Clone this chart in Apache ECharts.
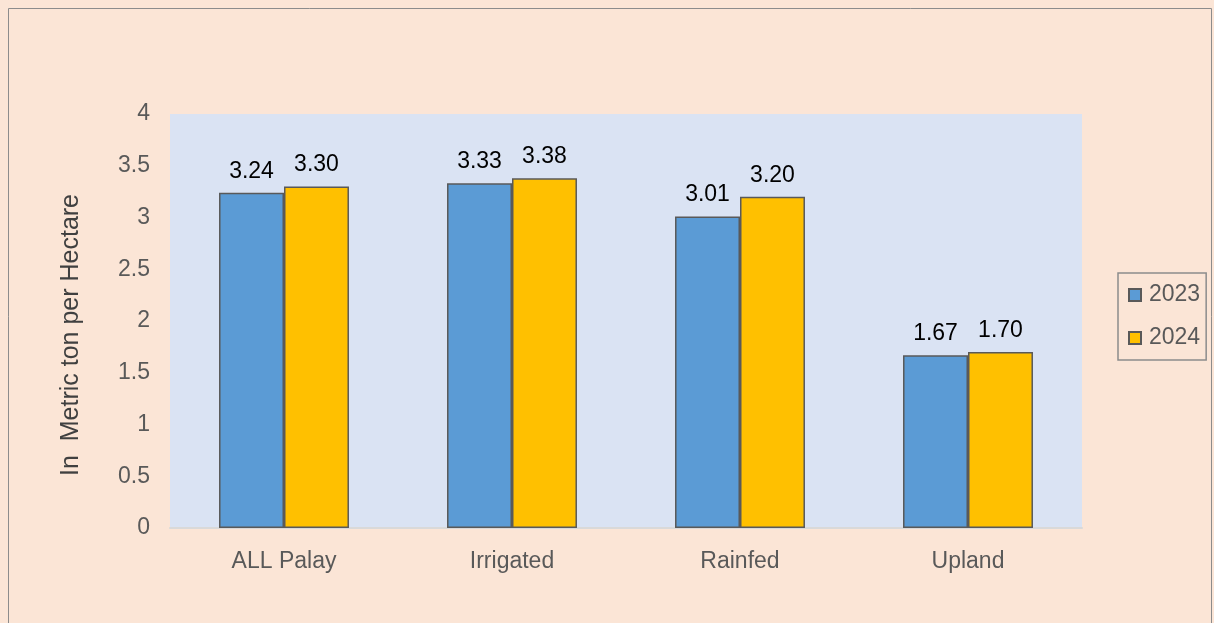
<!DOCTYPE html>
<html>
<head>
    <meta charset="utf-8">
    <title>Palay yield</title>
    <script src="https://cdn.jsdelivr.net/npm/echarts@6/dist/echarts.min.js"></script>
    <style>
        body, html {
            margin: 0;
            height: 100%;
            background: #fbe5d6;
        }

        #main {
            width: 1214px;
            height: 623px;
        }
    </style>
</head>
<body>
<div id="main"></div>
<script type="text/javascript">
    var categories = ['ALL Palay', 'Irrigated', 'Rainfed', 'Upland'];
    var years = ['2023', '2024'];
    var values2023 = [3.24, 3.33, 3.01, 1.67];
    var values2024 = [3.30, 3.38, 3.20, 1.70];
    var yTicks = [0, 0.5, 1, 1.5, 2, 2.5, 3, 3.5, 4];

    var myChart = echarts.init(document.getElementById('main'));

    var labelStyle = {
        show: true,
        position: 'top',
        distance: 10,
        color: '#000',
        fontSize: 23,
        fontFamily: 'Liberation Sans',
        formatter: function (p) {
            return p.value.toFixed(2);
        }
    };

    var option = {
        backgroundColor: '#fbe5d6',
        animation: false,
        textStyle: {
            fontFamily: 'Liberation Sans'
        },
        graphic: [{
            type: 'rect',
            shape: {x: 8.5, y: 8.5, width: 1203, height: 640},
            style: {fill: 'none', stroke: '#8c8c8c', lineWidth: 1}
        }],
        grid: {
            left: 170,
            right: 132,
            top: 114,
            bottom: 95,
            show: true,
            backgroundColor: '#dae3f3',
            borderWidth: 0
        },
        legend: {
            data: years,
            orient: 'vertical',
            left: 1118,
            top: 273,
            padding: [10, 6, 10, 10],
            itemGap: 19,
            itemWidth: 12,
            itemHeight: 12,
            icon: 'rect',
            borderColor: '#8c8c8c',
            borderWidth: 1.5,
            textStyle: {
                color: '#595959',
                fontSize: 23,
                lineHeight: 24,
                padding: [0, 0, 0, 3]
            }
        },
        xAxis: {
            type: 'category',
            data: categories,
            axisTick: {show: false},
            axisLine: {lineStyle: {color: '#d9d9d9', width: 2}},
            axisLabel: {
                color: '#595959',
                fontSize: 23,
                margin: 22
            }
        },
        yAxis: {
            type: 'value',
            min: yTicks[0],
            max: yTicks[yTicks.length - 1],
            interval: 0.5,
            splitLine: {show: false},
            axisLine: {show: false},
            axisTick: {show: false},
            axisLabel: {
                color: '#595959',
                fontSize: 23,
                margin: 20,
                padding: [8, 0, 0, 0]
            },
            name: 'In  Metric ton per Hectare',
            nameLocation: 'middle',
            nameGap: 86,
            nameTextStyle: {
                color: '#404040',
                fontSize: 25,
                padding: [0, 0, 0, -28]
            }
        },
        series: [
            {
                name: years[0],
                type: 'bar',
                data: values2023,
                barGap: '0%',
                barCategoryGap: '43%',
                itemStyle: {color: '#5b9bd5', borderColor: '#595959', borderWidth: 1.5},
                label: labelStyle
            },
            {
                name: years[1],
                type: 'bar',
                data: values2024,
                itemStyle: {color: '#ffc000', borderColor: '#595959', borderWidth: 1.5},
                label: labelStyle
            }
        ]
    };

    myChart.setOption(option);
</script>
</body>
</html>
